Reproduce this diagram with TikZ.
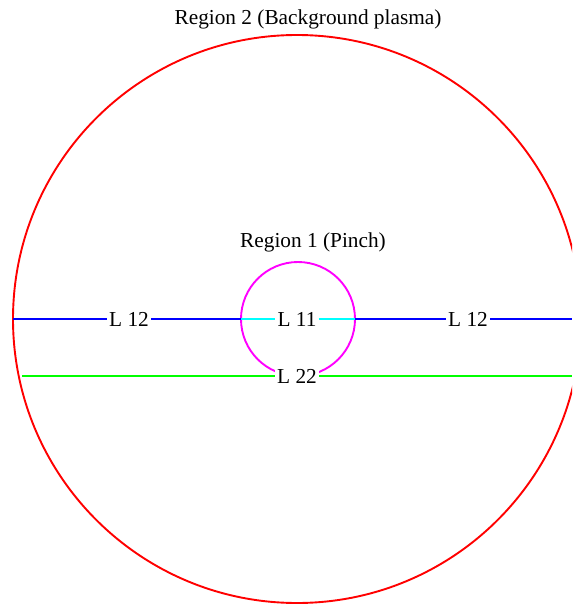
\documentclass[tikz,border=0pt]{standalone}
\usepackage{fontspec}
\setmainfont{Liberation Serif}
\definecolor{pred}{RGB}{255,0,0}
\definecolor{pblue}{RGB}{0,0,255}
\definecolor{pcyan}{RGB}{0,255,255}
\definecolor{pgreen}{RGB}{0,255,0}
\definecolor{pmag}{RGB}{255,0,255}
\begin{document}
\begin{tikzpicture}[x=1pt,y=-1pt,
  lab/.style={fill=white,inner xsep=2pt,inner ysep=1pt,font=\fontsize{21.3}{25}\selectfont},
  title/.style={font=\fontsize{21.3}{25}\selectfont,anchor=base},
  ln/.style={line width=1.9pt}]
\clip (0,0) rectangle (572,604);
\useasboundingbox (0,0) rectangle (572,604);
% regions
\draw[pred,line width=1.9pt] (297,319) circle [radius=284];
\draw[pmag,line width=1.9pt] (298,319) circle [radius=57];
\node[title] (r2) at (308,25) {Region 2 (Background plasma)};
\node[title] (r1) at (313,247) {Region 1 (Pinch)};
% coordinates
\coordinate (bl) at (13,319);
\coordinate (br) at (572,319);
\coordinate (ml) at (241,319);
\coordinate (mr) at (355,319);
\coordinate (gl) at (22,376);
\coordinate (gr) at (572,376);
% labels
\node[lab] (l12a) at (129,319) {L 12};
\node[lab] (l12b) at (468,319) {L 12};
\node[lab] (l11) at (297,319) {L 11};
\node[lab] (l22) at (297,376) {L 22};
% connectors
\draw[ln,pblue] (bl) -- (l12a) -- (ml);
\draw[ln,pblue] (mr) -- (l12b) -- (br);
\draw[ln,pcyan] (ml) -- (l11) -- (mr);
\draw[ln,pgreen] (gl) -- (l22) -- (gr);
\end{tikzpicture}
\end{document}
